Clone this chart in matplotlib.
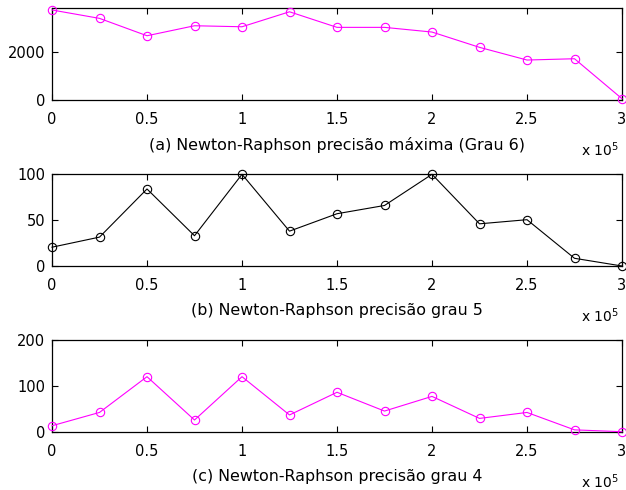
import matplotlib
matplotlib.use("Agg")
import matplotlib.pyplot as plt

x = [0, 25000, 50000, 75000, 100000, 125000, 150000, 175000, 200000, 225000, 250000, 275000, 300000]
grau6 = [3730, 3383, 2662, 3077, 3035, 3656, 3010, 3010, 2816, 2182, 1656, 1710, 54]
grau5 = [20.5, 31.5, 84, 33, 100, 38, 57, 66, 100, 46, 50.5, 8.4, 0]
grau4 = [13, 42, 120, 25.5, 120, 36.5, 86, 45, 77, 29, 42, 4, 0]

xticks = [0, 50000, 100000, 150000, 200000, 250000, 300000]
xticklabels = ['0', '0.5', '1', '1.5', '2', '2.5', '3']

captions = ['(a) Newton-Raphson precisão máxima (Grau 6)',
            '(b) Newton-Raphson precisão grau 5',
            '(c) Newton-Raphson precisão grau 4']
series = [grau6, grau5, grau4]
colors = ['#ff00ff', '#000000', '#ff00ff']
ylims = [(0, 3800), (0, 100), (0, 200)]
yticks = [[0, 2000], [0, 50, 100], [0, 100, 200]]

plt.rcParams['font.family'] = ['DejaVu Sans']
W, H = 626, 490
fig = plt.figure(figsize=(W / 100, H / 100), dpi=100)

# axes boxes in pixels: (top, bottom)
boxes = [(8.3, 100), (174.3, 266), (340, 431.7)]
left, right = 52, 622

for i, (top, bot) in enumerate(boxes):
    ax = fig.add_axes([left / W, 1 - bot / H, (right - left) / W, (bot - top) / H])
    ax.plot(x, series[i], color=colors[i], lw=0.8, marker='o', ms=6,
            mfc='none', mec=colors[i], mew=0.8, clip_on=False, zorder=3)
    ax.set_xlim(0, 300000)
    ax.set_ylim(*ylims[i])
    ax.set_xticks(xticks)
    ax.set_xticklabels(xticklabels)
    ax.set_yticks(yticks[i])
    ax.tick_params(direction='in', length=4, width=0.8, labelsize=10.5,
                   top=True, right=True, colors='black')
    ax.tick_params(axis='x', pad=9)
    ax.tick_params(axis='y', pad=5)
    for s in ax.spines.values():
        s.set_linewidth(0.9)
    ax.text(0.5, -45 / (bot - top), captions[i], transform=ax.transAxes,
            ha='center', va='center', fontsize=11.4)
    ax.text(0.994, -50 / (bot - top), r'x 10$^{5}$', transform=ax.transAxes,
            ha='right', va='center', fontsize=10)

fig.savefig('out.png', dpi=100)
